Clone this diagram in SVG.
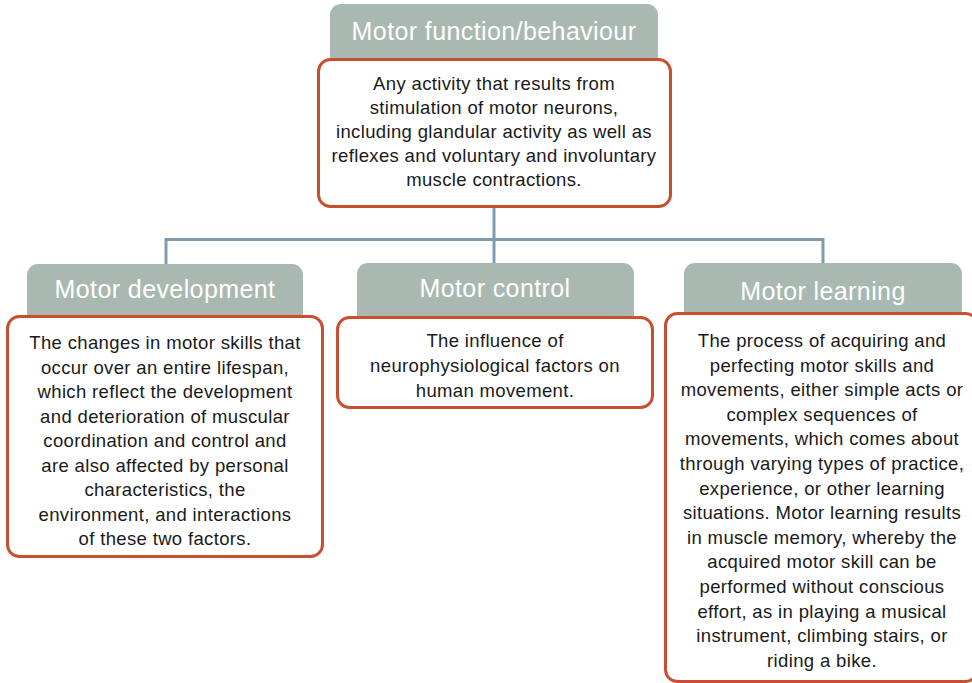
<svg xmlns="http://www.w3.org/2000/svg" width="972" height="683" viewBox="0 0 972 683">
<style>
.hdr{fill:#A9B9B2}
.box{fill:#FFFFFF;stroke:#C8502F;stroke-width:3}
.ht{font-family:"Liberation Sans",Arial,sans-serif;font-size:25px;letter-spacing:0.4px;fill:#FFFFFF;text-anchor:middle}
.bt{font-family:"Liberation Sans",Arial,sans-serif;font-size:18.5px;letter-spacing:0.35px;fill:#1A1A1A;text-anchor:middle}
.con{fill:none;stroke:#7F9BB0;stroke-width:3}
</style>
<rect width="972" height="683" fill="#FFFFFF"/>
<g id="connectors">
<path class="con" d="M494 207 V239.5 M166 264 V239.5 H823 V264 M494 239.5 V264"/>
</g>
<g id="motor-function">
<rect class="hdr" x="330" y="4" width="328" height="70" rx="11"/>
<text class="ht" x="494" y="40">Motor function/behaviour</text>
<rect class="box" x="318.5" y="59.5" width="352" height="147" rx="12"/>
<text class="bt" x="494" y="90">Any activity that results from</text>
<text class="bt" x="494" y="114">stimulation of motor neurons,</text>
<text class="bt" x="494" y="138">including glandular activity as well as</text>
<text class="bt" x="494" y="162">reflexes and voluntary and involuntary</text>
<text class="bt" x="494" y="186">muscle contractions.</text>
</g>
<g id="motor-development">
<rect class="hdr" x="27" y="264" width="276" height="70" rx="11"/>
<text class="ht" x="165" y="298">Motor development</text>
<rect class="box" x="7.5" y="316.5" width="315" height="240" rx="12"/>
<text class="bt" x="165" y="349">The changes in motor skills that</text>
<text class="bt" x="165" y="373.5">occur over an entire lifespan,</text>
<text class="bt" x="165" y="398">which reflect the development</text>
<text class="bt" x="165" y="422.5">and deterioration of muscular</text>
<text class="bt" x="165" y="447">coordination and control and</text>
<text class="bt" x="165" y="471.5">are also affected by personal</text>
<text class="bt" x="165" y="496">characteristics, the</text>
<text class="bt" x="165" y="520.5">environment, and interactions</text>
<text class="bt" x="165" y="545">of these two factors.</text>
</g>
<g id="motor-control">
<rect class="hdr" x="357" y="263" width="277" height="70" rx="11"/>
<text class="ht" x="495" y="297">Motor control</text>
<rect class="box" x="337.5" y="317.5" width="315" height="90" rx="12"/>
<text class="bt" x="495" y="347">The influence of</text>
<text class="bt" x="495" y="372">neurophysiological factors on</text>
<text class="bt" x="495" y="397">human movement.</text>
</g>
<g id="motor-learning">
<rect class="hdr" x="684" y="263" width="278" height="70" rx="11"/>
<text class="ht" x="823" y="300">Motor learning</text>
<rect class="box" x="665.5" y="313.5" width="312" height="368" rx="12"/>
<text class="bt" x="822" y="347">The process of acquiring and</text>
<text class="bt" x="822" y="371.6">perfecting motor skills and</text>
<text class="bt" x="822" y="396.2">movements, either simple acts or</text>
<text class="bt" x="822" y="420.8">complex sequences of</text>
<text class="bt" x="822" y="445.4">movements, which comes about</text>
<text class="bt" x="822" y="470">through varying types of practice,</text>
<text class="bt" x="822" y="494.6">experience, or other learning</text>
<text class="bt" x="822" y="519.2">situations. Motor learning results</text>
<text class="bt" x="822" y="543.8">in muscle memory, whereby the</text>
<text class="bt" x="822" y="568.4">acquired motor skill can be</text>
<text class="bt" x="822" y="593">performed without conscious</text>
<text class="bt" x="822" y="617.6">effort, as in playing a musical</text>
<text class="bt" x="822" y="642.2">instrument, climbing stairs, or</text>
<text class="bt" x="822" y="666.8">riding a bike.</text>
</g>
</svg>
